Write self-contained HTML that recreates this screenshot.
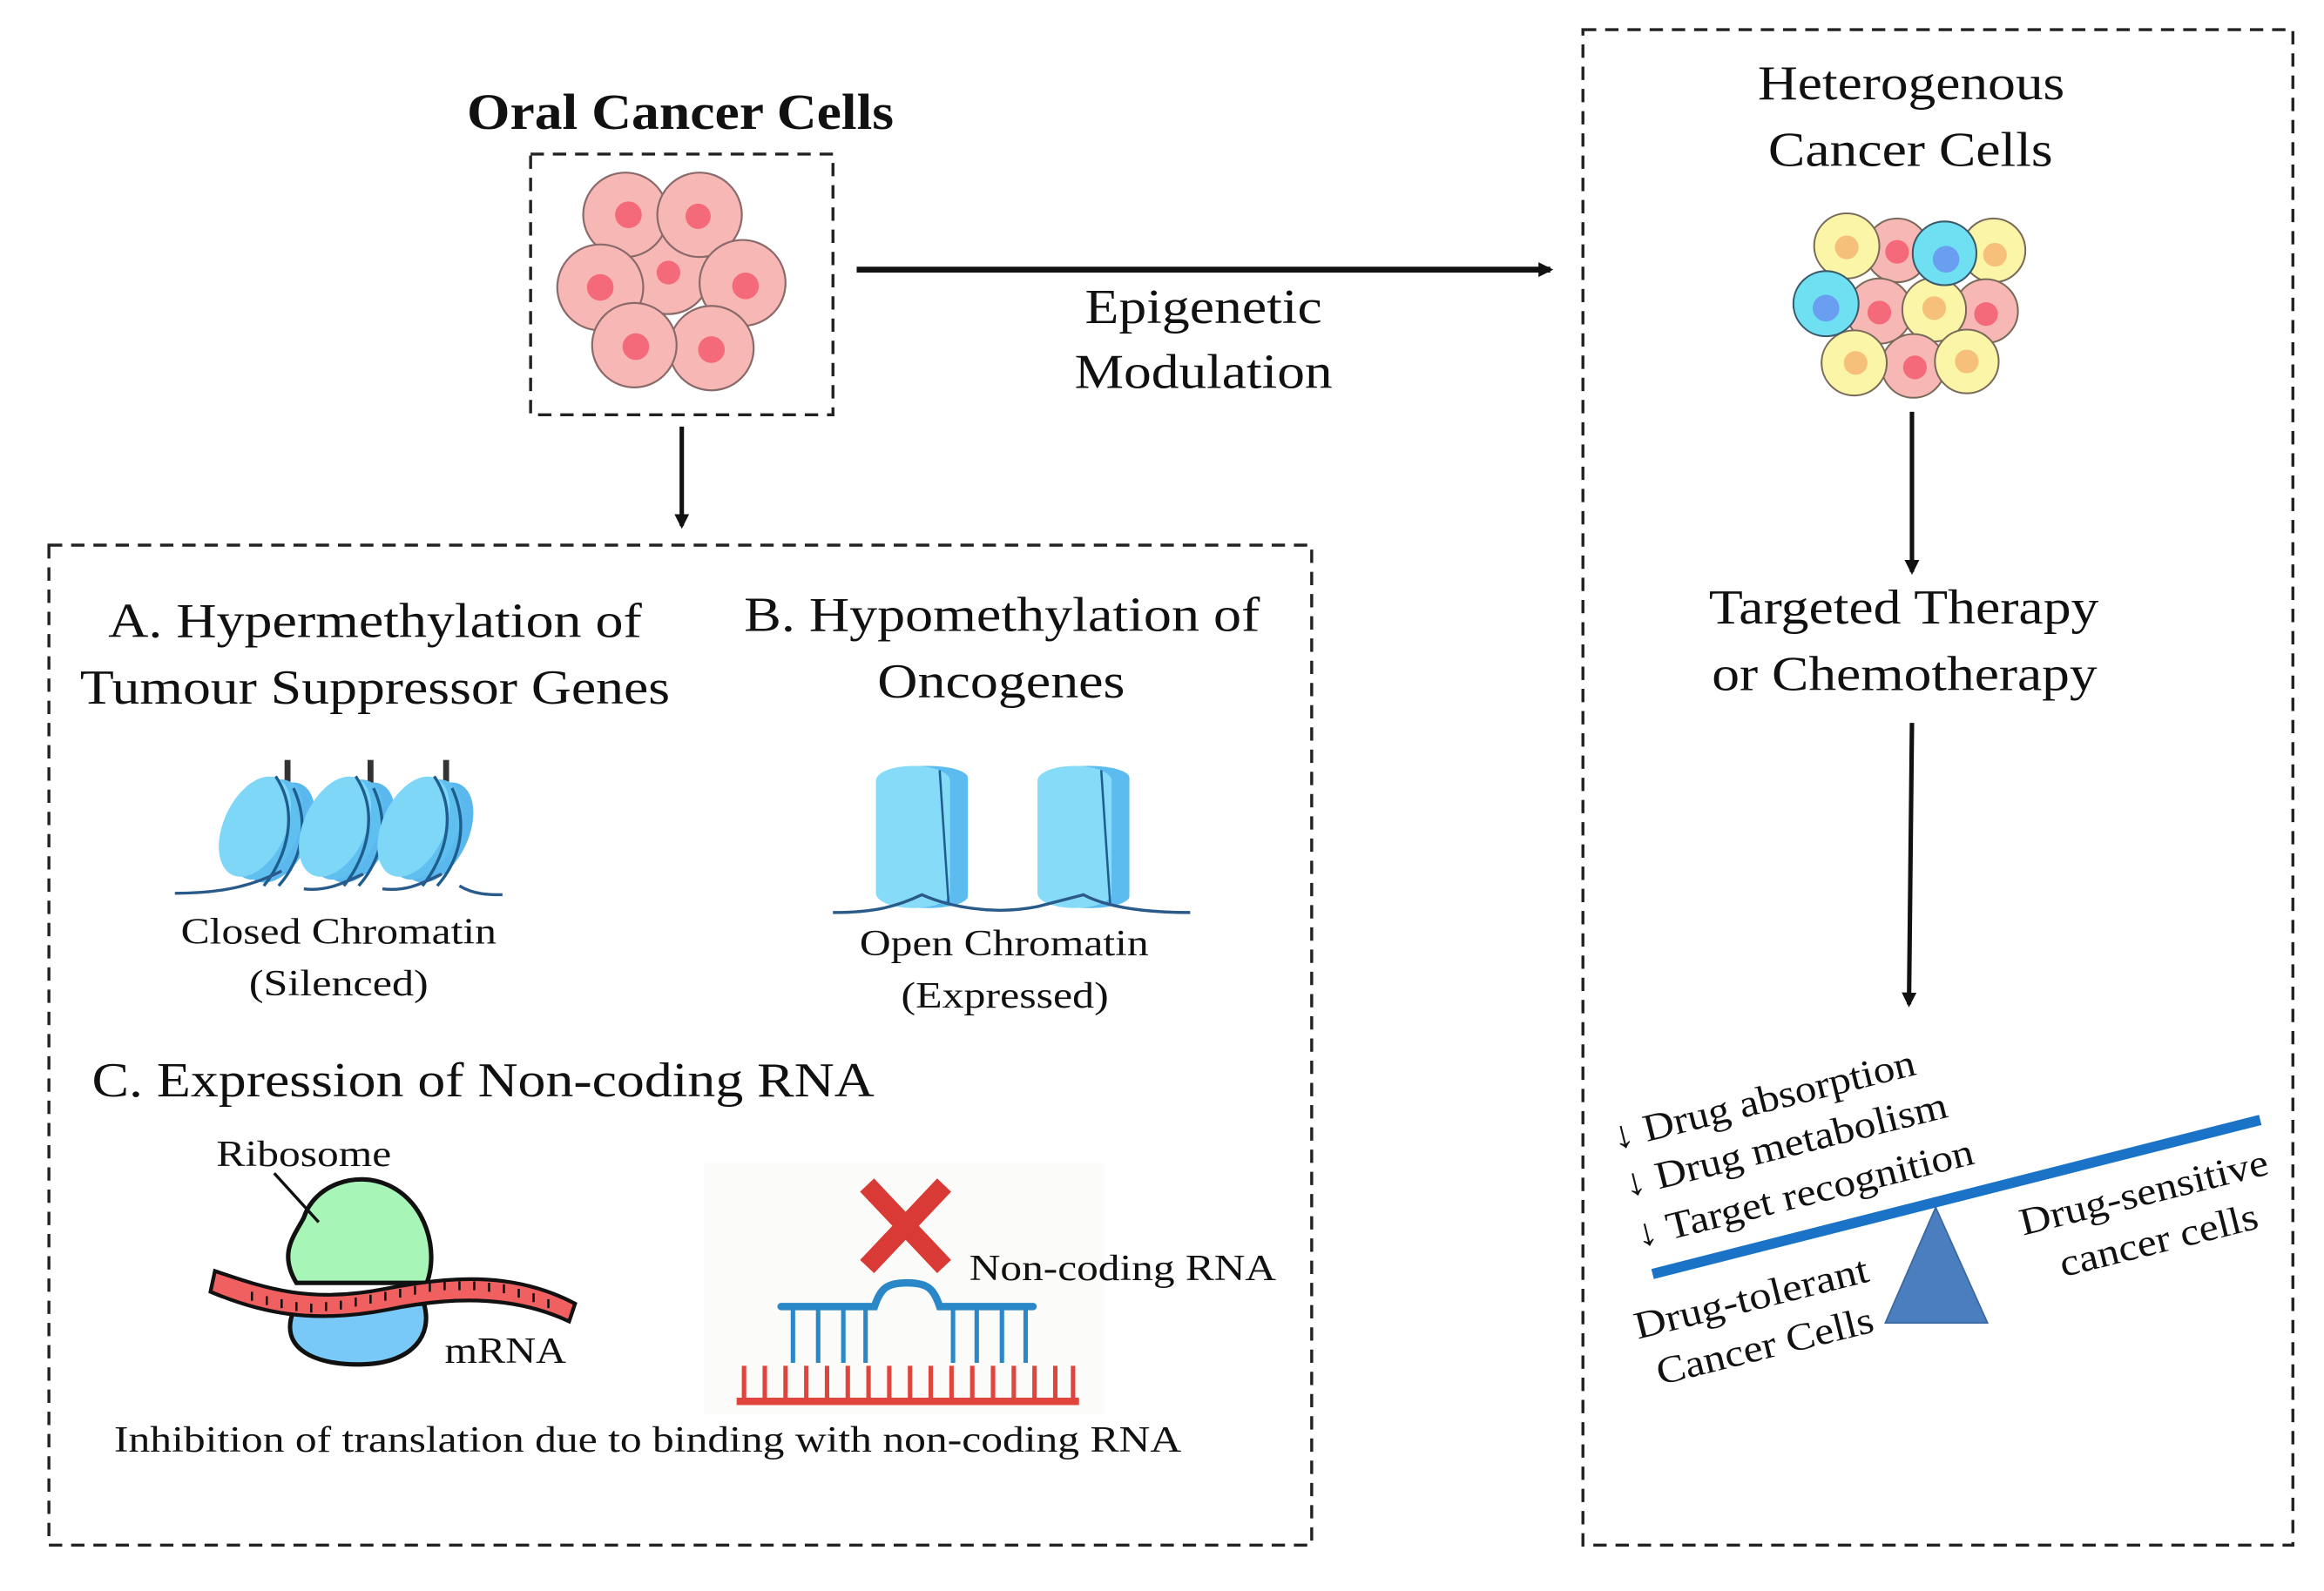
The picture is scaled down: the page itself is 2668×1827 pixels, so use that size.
<!DOCTYPE html>
<html><head><meta charset="utf-8"><style>
html,body{margin:0;padding:0;background:#fff;}
svg{display:block;}
text{font-family:"Liberation Serif",serif;fill:#111;}
</style></head><body>
<svg width="2668" height="1827" viewBox="0 0 1568 1074" preserveAspectRatio="none" xmlns="http://www.w3.org/2000/svg">
<defs>
<marker id="ah" markerWidth="10" markerHeight="10" refX="8" refY="5" orient="auto" markerUnits="userSpaceOnUse">
<path d="M0,0 L10,5 L0,10 z" fill="#111"/></marker>
<g id="nuc">
 <ellipse cx="16" cy="4" rx="21" ry="36" transform="rotate(25 16 4)" fill="#5ab8ee"/>
 <ellipse cx="8" cy="2" rx="21" ry="36" transform="rotate(25 8 2)" fill="#5fc0f0"/>
 <ellipse cx="0" cy="0" rx="21" ry="36" transform="rotate(25 0 0)" fill="#7fd7f7"/>
 <path d="M14,-34 C30,-10 22,20 6,40" stroke="#1e5e8f" stroke-width="2" fill="none"/>
 <path d="M26,-26 C38,0 30,24 16,40" stroke="#1e5e8f" stroke-width="2" fill="none"/>
</g>
</defs>
<g fill="none" stroke="#222" stroke-width="2" stroke-dasharray="9,6">
<rect x="358" y="104" width="204" height="176"/>
<rect x="33" y="368" width="852" height="675"/>
<rect x="1068" y="20" width="479" height="1023"/>
</g>
<text x="315" y="87" font-size="34" font-weight="bold" textLength="288" lengthAdjust="spacingAndGlyphs">Oral Cancer Cells</text>
<g stroke="#8a6a6a" stroke-width="1.3" fill="#f7b8b5">
<circle cx="451" cy="184" r="28"/>
<circle cx="422" cy="145" r="28.5"/><circle cx="472" cy="145" r="28.5"/>
<circle cx="405" cy="194" r="29"/><circle cx="501" cy="191" r="29"/>
<circle cx="480" cy="235" r="28.5"/><circle cx="428" cy="233" r="28.5"/>
</g>
<g fill="#f46a7a">
<circle cx="451" cy="184" r="8"/><circle cx="424" cy="145" r="9"/><circle cx="471" cy="146" r="8.5"/>
<circle cx="405" cy="194" r="9"/><circle cx="503" cy="193" r="9"/><circle cx="480" cy="236" r="9"/><circle cx="429" cy="234" r="9"/>
</g>
<line x1="578" y1="182" x2="1046" y2="182" stroke="#111" stroke-width="4" marker-end="url(#ah)"/>
<text x="732" y="218" font-size="33" textLength="160" lengthAdjust="spacingAndGlyphs">Epigenetic</text>
<text x="725" y="262" font-size="33" textLength="174" lengthAdjust="spacingAndGlyphs">Modulation</text>
<line x1="460" y1="288" x2="460" y2="355" stroke="#111" stroke-width="3" marker-end="url(#ah)"/>
<text x="1186" y="67" font-size="33" textLength="207" lengthAdjust="spacingAndGlyphs">Heterogenous</text>
<text x="1193" y="112" font-size="33" textLength="192" lengthAdjust="spacingAndGlyphs">Cancer Cells</text>
<g stroke="#7a6a5a" stroke-width="1.2">
<circle cx="1280" cy="169" r="21.5" fill="#f7b8b5"/>
<circle cx="1246" cy="166" r="22" fill="#fbf5a8"/>
<circle cx="1345" cy="169" r="21.5" fill="#fbf5a8"/>
<circle cx="1340" cy="210" r="21.5" fill="#f7b8b5"/>
<circle cx="1268" cy="210" r="22" fill="#f7b8b5"/>
<circle cx="1305" cy="209" r="21.5" fill="#fbf5a8"/>
<circle cx="1291" cy="247" r="21.5" fill="#f7b8b5"/>
<circle cx="1251" cy="245" r="22" fill="#fbf5a8"/>
<circle cx="1327" cy="244" r="21.5" fill="#fbf5a8"/>
<circle cx="1312" cy="171" r="21.5" fill="#6fe0f2" stroke="#3a5a6a"/>
<circle cx="1232" cy="205" r="22" fill="#6fe0f2" stroke="#3a5a6a"/>
</g>
<g>
<circle cx="1246" cy="167" r="8" fill="#f7c07a"/><circle cx="1280" cy="170" r="8" fill="#f46a7a"/>
<circle cx="1313" cy="175" r="9" fill="#6a9ef0"/><circle cx="1346" cy="172" r="8" fill="#f7c07a"/>
<circle cx="1232" cy="208" r="9" fill="#6a9ef0"/><circle cx="1268" cy="211" r="8" fill="#f46a7a"/>
<circle cx="1305" cy="208" r="8" fill="#f7c07a"/><circle cx="1340" cy="212" r="8" fill="#f46a7a"/>
<circle cx="1252" cy="245" r="8" fill="#f7c07a"/><circle cx="1292" cy="248" r="8" fill="#f46a7a"/>
<circle cx="1327" cy="244" r="8" fill="#f7c07a"/>
</g>
<line x1="1290" y1="278" x2="1290" y2="386" stroke="#111" stroke-width="3" marker-end="url(#ah)"/>
<text x="1153" y="421" font-size="33" textLength="263" lengthAdjust="spacingAndGlyphs">Targeted Therapy</text>
<text x="1155" y="466" font-size="33" textLength="260" lengthAdjust="spacingAndGlyphs">or Chemotherapy</text>
<line x1="1290" y1="488" x2="1288" y2="678" stroke="#111" stroke-width="3" marker-end="url(#ah)"/>
<polygon points="1306,815 1272,893 1341,893" fill="#4a7ebf" stroke="#3a66a0" stroke-width="1"/>
<line x1="1115" y1="860" x2="1525" y2="756" stroke="#1a73c7" stroke-width="7"/>
<g font-size="26">
<text transform="translate(1090,776) rotate(-14)" textLength="210" lengthAdjust="spacingAndGlyphs">↓ Drug absorption</text>
<text transform="translate(1098,808) rotate(-14)" textLength="224" lengthAdjust="spacingAndGlyphs">↓ Drug metabolism</text>
<text transform="translate(1106,842) rotate(-14)" textLength="234" lengthAdjust="spacingAndGlyphs">↓ Target recognition</text>
<text transform="translate(1105,904) rotate(-14)" textLength="162" lengthAdjust="spacingAndGlyphs">Drug-tolerant</text>
<text transform="translate(1120,935) rotate(-14)" textLength="150" lengthAdjust="spacingAndGlyphs">Cancer Cells</text>
<text transform="translate(1365,834) rotate(-14)" textLength="172" lengthAdjust="spacingAndGlyphs">Drug-sensitive</text>
<text transform="translate(1392,862) rotate(-14)" textLength="137" lengthAdjust="spacingAndGlyphs">cancer cells</text>
</g>
<text x="73" y="430" font-size="33" textLength="360" lengthAdjust="spacingAndGlyphs">A. Hypermethylation of</text>
<text x="54" y="475" font-size="33" textLength="398" lengthAdjust="spacingAndGlyphs">Tumour Suppressor Genes</text>
<text x="502" y="426" font-size="33" textLength="348" lengthAdjust="spacingAndGlyphs">B. Hypomethylation of</text>
<text x="592" y="471" font-size="33" textLength="167" lengthAdjust="spacingAndGlyphs">Oncogenes</text>
<g stroke="#333" stroke-width="4"><line x1="194" y1="513" x2="194" y2="530"/><line x1="250" y1="513" x2="250" y2="530"/><line x1="301" y1="513" x2="301" y2="530"/></g>
<use href="#nuc" x="172" y="558"/><use href="#nuc" x="226" y="558"/><use href="#nuc" x="279" y="558"/>
<path d="M118,603 C150,603 170,598 190,588 M205,600 C220,602 232,596 245,590 M258,600 C275,602 285,596 298,590 M310,598 C320,604 330,604 339,604" stroke="#2a5a8a" stroke-width="2" fill="none"/>
<text x="122" y="637" font-size="25" textLength="213" lengthAdjust="spacingAndGlyphs">Closed Chromatin</text>
<text x="168" y="672" font-size="25" textLength="121" lengthAdjust="spacingAndGlyphs">(Silenced)</text>
<g>
<rect x="598" y="517" width="55" height="96" rx="27" ry="8" fill="#5cbcef"/>
<rect x="591" y="517" width="50" height="96" rx="25" ry="10" fill="#86dcf8"/>
<line x1="634" y1="520" x2="640" y2="610" stroke="#1e5e8f" stroke-width="1.5"/>
<rect x="707" y="517" width="55" height="96" rx="27" ry="8" fill="#5cbcef"/>
<rect x="700" y="517" width="50" height="96" rx="25" ry="10" fill="#86dcf8"/>
<line x1="743" y1="520" x2="749" y2="610" stroke="#1e5e8f" stroke-width="1.5"/>
</g>
<path d="M562,616 C590,616 605,612 622,604 C640,612 670,618 700,612 L731,604 C750,614 780,616 803,616" stroke="#2a5a8a" stroke-width="2" fill="none"/>
<text x="580" y="645" font-size="25" textLength="195" lengthAdjust="spacingAndGlyphs">Open Chromatin</text>
<text x="608" y="680" font-size="25" textLength="140" lengthAdjust="spacingAndGlyphs">(Expressed)</text>
<text x="62" y="740" font-size="33" textLength="528" lengthAdjust="spacingAndGlyphs">C. Expression of Non-coding RNA</text>
<text x="146" y="787" font-size="25" textLength="118" lengthAdjust="spacingAndGlyphs">Ribosome</text>
<path d="M198,885 C188,910 212,922 245,921 C280,920 292,900 286,880 Z" fill="#78c8f8" stroke="#111" stroke-width="3"/>
<path d="M200,866 C188,846 198,835 205,822 C212,800 240,790 262,800 C288,812 296,845 288,866 Z" fill="#a8f5b8" stroke="#111" stroke-width="3"/>
<line x1="185" y1="792" x2="215" y2="825" stroke="#111" stroke-width="2"/>
<path d="M145,858 C180,870 210,880 260,870 C310,860 350,860 388,880 L384,892 C350,876 310,874 262,884 C210,894 175,886 142,872 Z" fill="#f06060" stroke="#111" stroke-width="2.5"/>
<g stroke="#111" stroke-width="1.5">
<path d="M170,878 v-6 M180,881 v-6 M190,883 v-6 M200,885 v-6 M210,886 v-6 M220,885 v-6 M230,884 v-6 M240,882 v-6 M250,880 v-6 M260,878 v-6 M270,876 v-6 M280,874 v-6 M290,872 v-6 M300,871 v-6 M310,871 v-6 M320,871 v-6 M330,872 v-6 M340,873 v-6 M350,876 v-6 M360,879 v-6 M370,883 v-6"/>
</g>
<text x="300" y="920" font-size="25" textLength="82" lengthAdjust="spacingAndGlyphs">mRNA</text>
<rect x="475" y="785" width="270" height="170" fill="#fbfbf9"/>
<g stroke="#d93a35" stroke-width="13" stroke-linecap="butt"><line x1="585" y1="800" x2="637" y2="855"/><line x1="637" y1="800" x2="585" y2="855"/></g>
<text x="654" y="864" font-size="25" textLength="207" lengthAdjust="spacingAndGlyphs">Non-coding RNA</text>
<path d="M527,882 L590,882 C594,870 598,866 612,866 C626,866 630,870 634,882 L697,882" stroke="#2a88c8" stroke-width="5" fill="none" stroke-linecap="round"/>
<g stroke="#2a88c8" stroke-width="3">
<path d="M535,882 v38 M552,882 v38 M569,882 v38 M584,882 v38 M643,882 v38 M659,882 v38 M676,882 v38 M692,882 v38"/>
</g>
<line x1="497" y1="946" x2="728" y2="946" stroke="#e0453d" stroke-width="5"/>
<g stroke="#e0453d" stroke-width="3">
<path d="M502,946 v-24 M516,946 v-24 M530,946 v-24 M544,946 v-24 M558,946 v-24 M572,946 v-24 M586,946 v-24 M600,946 v-24 M614,946 v-24 M628,946 v-24 M642,946 v-24 M656,946 v-24 M670,946 v-24 M684,946 v-24 M698,946 v-24 M712,946 v-24 M724,946 v-24"/>
</g>
<text x="77" y="980" font-size="25" textLength="720" lengthAdjust="spacingAndGlyphs">Inhibition of translation due to binding with non-coding RNA</text>
</svg>
</body></html>
